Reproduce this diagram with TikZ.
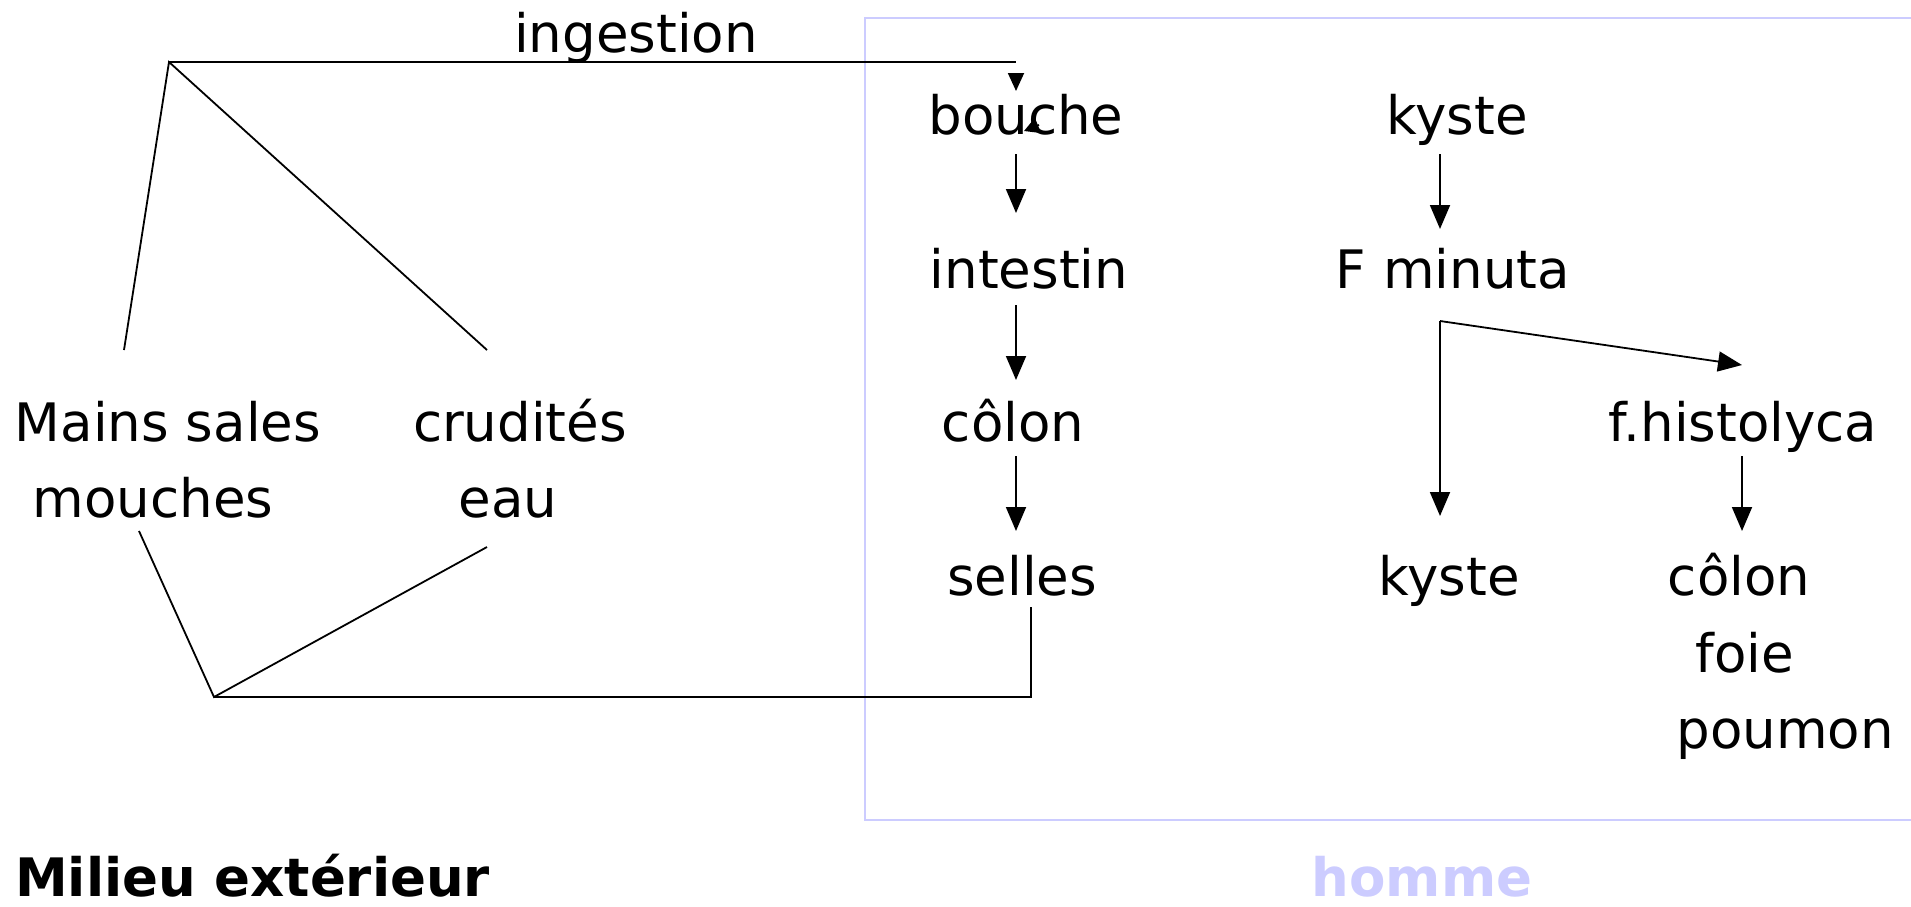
\documentclass[tikz,border=0pt]{standalone}
\usepackage{fontspec}
\setmainfont{DejaVu Sans}
\usetikzlibrary{arrows.meta}
\definecolor{lav}{RGB}{204,204,255}
\tikzset{
  lbl/.style={anchor=base, inner sep=0pt, font=\fontsize{53}{63}\selectfont},
  title/.style={anchor=base, inner sep=0pt, font=\fontsize{53}{63}\selectfont\bfseries},
  ln/.style={line width=1.8pt, black},
  arr/.style={ln, -{Triangle[length=24pt,width=20pt]}},
  zone/.style={line width=1.8pt, lav}
}
\begin{document}
\begin{tikzpicture}[x=1pt, y=-1pt]
\useasboundingbox (0,0) rectangle (1911,906);

% the host region
\draw[zone] (1915,18) -- (865,18) -- (865,820) -- (1915,820);

% labels, outside
\node[lbl] (ing)    at (636,52)  {ingestion};
\node[lbl] (mains)  at (168,441) {Mains sales};
\node[lbl] (mouch)  at (153,517) {mouches};
\node[lbl] (crud)   at (520,441) {crudités};
\node[lbl] (eau)    at (508,517) {eau};

% labels, host: digestive route
\node[lbl] (bouche) at (1026,134) {bouche};
\node[lbl] (intest) at (1029,288) {intestin};
\node[lbl] (colon)  at (1013,441) {côlon};
\node[lbl] (selles) at (1022,595) {selles};

% labels, host: parasite cycle
\node[lbl] (kyst1)  at (1457,134) {kyste};
\node[lbl] (minuta) at (1453,288) {F minuta};
\node[lbl] (histo)  at (1743,441) {f.histolyca};
\node[lbl] (kyst2)  at (1449,595) {kyste};
\node[lbl] (colon2) at (1739,595) {côlon};
\node[lbl] (foie)   at (1745,672) {foie};
\node[lbl] (poumon) at (1785,748) {poumon};

% region titles
\node[title, anchor=base west] (milieu) at (15,896) {Milieu extérieur};
\node[title, text=lav] (homme) at (1422,896) {homme};

% junction points of the contamination loop
\coordinate (apex)  at (169,62);
\coordinate (topR)  at (1016,62);
\coordinate (mainT) at (124,350);
\coordinate (crudT) at (487,350);
\coordinate (mouB)  at (139,531);
\coordinate (eauB)  at (487,547);
\coordinate (base)  at (214,697);
\coordinate (botR)  at (1031,697);
\coordinate (selB)  at (1031,607);

\draw[ln] (mainT) -- (apex) -- (crudT);
\draw[ln] (apex) -- (topR);
\draw[ln, -{Triangle[length=18pt,width=16pt]}] (1016,73) -- (1016,91);
\draw[ln, -{Triangle[length=15pt,width=16pt]}] (1039,125) -- (1024,131);
\draw[ln] (mouB) -- (base) -- (eauB);
\draw[ln] (base) -- (botR) -- (selB);

% digestive route arrows
\coordinate (b1) at (1016,154); \coordinate (b2) at (1016,213);
\coordinate (i1) at (1016,305); \coordinate (i2) at (1016,380);
\coordinate (c1) at (1016,456); \coordinate (c2) at (1016,531);
\draw[arr] (b1) -- (b2);
\draw[arr] (i1) -- (i2);
\draw[arr] (c1) -- (c2);

% parasite cycle arrows
\coordinate (k1) at (1440,154); \coordinate (k2) at (1440,229);
\coordinate (fork) at (1440,321);
\coordinate (kb) at (1440,516);
\coordinate (ht) at (1742,365);
\coordinate (h1) at (1742,456); \coordinate (h2) at (1742,531);
\draw[arr] (k1) -- (k2);
\draw[arr] (fork) -- (kb);
\draw[arr] (fork) -- (ht);
\draw[arr] (h1) -- (h2);
\end{tikzpicture}
\end{document}
